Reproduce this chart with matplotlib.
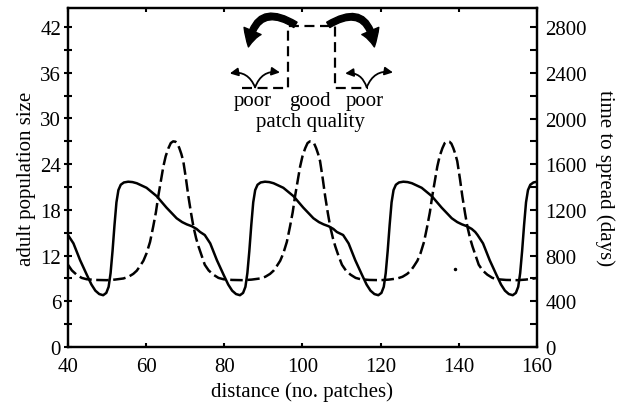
import matplotlib
matplotlib.use("Agg")
import matplotlib.pyplot as plt
from matplotlib.patches import FancyArrowPatch
from matplotlib.ticker import MultipleLocator

plt.rcParams['font.family'] = ['Liberation Serif', 'DejaVu Serif']
plt.rcParams['font.size'] = 15

# adult population size (left axis), solid line
pop_x = [40.0, 41.4, 43.1, 44.8, 46.0, 47.0, 48.0, 49.0, 49.8, 50.4, 50.9, 51.4,
         51.9, 52.4, 52.9, 53.5, 54.3, 55.4, 56.5, 57.6, 60.1, 62.7, 65.2, 67.8,
         69.2, 70.4, 71.7, 72.9, 73.8,
         75.0, 76.4, 78.1, 79.8, 81.0, 82.0, 83.0, 84.0, 84.8, 85.4, 85.9, 86.4,
         86.9, 87.4, 87.9, 88.5, 89.3, 90.4, 91.5, 92.6, 95.1, 97.7, 100.2, 102.8,
         104.2, 105.4, 106.7, 107.9, 108.8,
         110.4, 111.8, 113.5, 115.2, 116.4, 117.4, 118.4, 119.4, 120.2, 120.8, 121.3,
         121.8, 122.3, 122.8, 123.3, 123.9, 124.7, 125.8, 126.9, 128.0, 130.5, 133.1,
         135.6, 138.2, 139.6, 140.8, 142.1, 143.3, 144.2,
         144.8, 146.2, 147.9, 149.6, 150.8, 151.8, 152.8, 153.8, 154.6, 155.2, 155.7,
         156.2, 156.7, 157.2, 157.7, 158.3, 159.1, 160.0]
pop_y = [14.7, 13.6, 11.4, 9.5, 8.2, 7.4, 6.95, 6.8, 7.1, 7.9, 9.7, 12.6,
         16.0, 19.0, 20.6, 21.3, 21.6, 21.7, 21.65, 21.5, 20.9, 19.8, 18.3, 16.9,
         16.4, 16.1, 15.85, 15.5, 15.1,
         14.7, 13.6, 11.4, 9.5, 8.2, 7.4, 6.95, 6.8, 7.1, 7.9, 9.7, 12.6,
         16.0, 19.0, 20.6, 21.3, 21.6, 21.7, 21.65, 21.5, 20.9, 19.8, 18.3, 16.9,
         16.4, 16.1, 15.85, 15.5, 15.1,
         14.7, 13.6, 11.4, 9.5, 8.2, 7.4, 6.95, 6.8, 7.1, 7.9, 9.7,
         12.6, 16.0, 19.0, 20.6, 21.3, 21.6, 21.7, 21.65, 21.5, 20.9, 19.8,
         18.3, 16.9, 16.4, 16.1, 15.85, 15.5, 15.1,
         14.7, 13.6, 11.4, 9.5, 8.2, 7.4, 6.95, 6.8, 7.1, 7.9, 9.7,
         12.6, 16.0, 19.0, 20.6, 21.3, 21.6, 21.7]

# time to spread in days (right axis), dashed line
spread_x = [40.0, 41.0, 42.2, 43.5, 44.8, 47.0, 49.9, 52.0, 54.2, 55.5, 56.7, 57.6,
            58.4, 59.3, 60.1, 61.0, 61.8, 62.5, 63.1, 63.8, 64.4, 65.0, 65.7, 66.3,
            66.9, 67.5, 68.0, 68.5, 69.0, 69.5, 70.2, 70.8, 71.5, 72.1, 72.8, 73.4,
            74.2,
            75.0, 76.0, 77.2, 78.5, 79.8, 82.0, 84.9, 87.0, 89.2, 90.5, 91.7, 92.6,
            93.4, 94.3, 95.1, 96.0, 96.8, 97.5, 98.1, 98.8, 99.4, 100.0, 100.7, 101.3,
            101.9, 102.5, 103.0, 103.5, 104.0, 104.5, 105.2, 105.8, 106.5, 107.1, 107.8,
            108.4, 109.2,
            110.1, 111.1, 112.3, 113.6, 114.9, 117.1, 120.0, 122.1, 124.3, 125.6, 126.8,
            127.7, 128.5, 129.4, 130.2, 131.1, 131.9, 132.6, 133.2, 133.9, 134.5, 135.1,
            135.8, 136.4, 137.0, 137.6, 138.1, 138.6, 139.1, 139.6, 140.3, 140.9, 141.6,
            142.2, 142.9, 143.5, 144.3,
            145.1, 146.1, 147.3, 148.6, 149.9, 152.1, 155.0, 157.1, 159.3, 160.0]
spread_y = [720, 670, 633, 605, 593, 587, 585, 590, 600, 615, 640, 668,
            707, 755, 820, 920, 1053, 1180, 1320, 1460, 1580, 1670, 1740, 1785,
            1800, 1797, 1780, 1740, 1690, 1627, 1470, 1320, 1170, 1053, 950, 880,
            800,
            720, 670, 633, 605, 593, 587, 585, 590, 600, 615, 640, 668,
            707, 755, 820, 920, 1053, 1180, 1320, 1460, 1580, 1670, 1740, 1785,
            1800, 1797, 1780, 1740, 1690, 1627, 1470, 1320, 1170, 1053, 950,
            880, 800,
            720, 670, 633, 605, 593, 587, 585, 590, 600, 615, 640,
            668, 707, 755, 820, 920, 1053, 1180, 1320, 1460, 1580, 1670,
            1740, 1785, 1800, 1797, 1780, 1740, 1690, 1627, 1470, 1320, 1170,
            1053, 950, 880, 800,
            720, 670, 633, 605, 593, 587, 585, 590, 600, 605]

# a stray dot in the original figure
stray_x = [139.0]
stray_y = [10.2]

fig = plt.figure(figsize=(6.22, 4.10), dpi=100)
ax = fig.add_axes([0.1093, 0.1512, 0.754, 0.8268])
ax2 = ax.twinx()

ax.plot(pop_x, pop_y, color='black', lw=1.8, solid_joinstyle='round')
ax.plot(stray_x, stray_y, 'o', color='black', ms=1.5)
ax2.plot(spread_x, spread_y, color='black', lw=1.8,
         linestyle=(0, (5, 1.8)))

ax.set_xlim(40, 160)
ax.set_ylim(0, 44.5)
ax2.set_ylim(0, 2967)

ax.xaxis.set_major_locator(MultipleLocator(20))
ax.yaxis.set_major_locator(MultipleLocator(6))
ax.yaxis.set_minor_locator(MultipleLocator(3))
ax2.yaxis.set_major_locator(MultipleLocator(400))
ax2.yaxis.set_minor_locator(MultipleLocator(200))

for a in (ax, ax2):
    for s in a.spines.values():
        s.set_linewidth(1.6)

ax.tick_params(axis='x', which='both', direction='in', top=True, length=3,
               width=1.5, pad=7)
ax.tick_params(axis='y', which='both', direction='inout', length=6, width=1.5,
               pad=2)
ax2.tick_params(axis='y', which='both', direction='in', length=5, width=1.5,
                pad=6)

ax.set_xlabel('distance (no. patches)', labelpad=4)
ax.set_ylabel('adult population size', labelpad=3)
ax2.set_ylabel('time to spread (days)', rotation=270, labelpad=20)

# inset sketch of patch quality
ax.plot([0.370, 0.470, 0.470, 0.569, 0.569, 0.640],
        [0.763, 0.763, 0.946, 0.946, 0.763, 0.763],
        transform=ax.transAxes, color='black', lw=1.6,
        linestyle=(0, (4.5, 2.5)))

big = dict(transform=ax.transAxes, color='black', mutation_scale=14,
           arrowstyle='simple,head_length=0.85,head_width=0.95,tail_width=0.32')
ax.add_patch(FancyArrowPatch((0.490, 0.946), (0.384, 0.877),
                             connectionstyle='arc3,rad=0.8', **big))
ax.add_patch(FancyArrowPatch((0.550, 0.946), (0.654, 0.877),
                             connectionstyle='arc3,rad=-0.8', **big))

small = dict(transform=ax.transAxes, color='black', lw=1.3, mutation_scale=8,
             arrowstyle='-|>,head_length=0.6,head_width=0.3', shrinkA=0, shrinkB=0)
for cx, lx, rx in [(0.399, 0.345, 0.452), (0.637, 0.591, 0.693)]:
    ax.add_patch(FancyArrowPatch((cx, 0.766), (lx, 0.807),
                                 connectionstyle='arc3,rad=0.4', **small))
    ax.add_patch(FancyArrowPatch((cx, 0.766), (rx, 0.810),
                                 connectionstyle='arc3,rad=-0.4', **small))

ax.text(0.393, 0.728, 'poor', transform=ax.transAxes, ha='center', va='center')
ax.text(0.516, 0.728, 'good', transform=ax.transAxes, ha='center', va='center')
ax.text(0.633, 0.728, 'poor', transform=ax.transAxes, ha='center', va='center')
ax.text(0.516, 0.665, 'patch quality', transform=ax.transAxes, ha='center',
        va='center')

fig.savefig('out.png', dpi=100)
